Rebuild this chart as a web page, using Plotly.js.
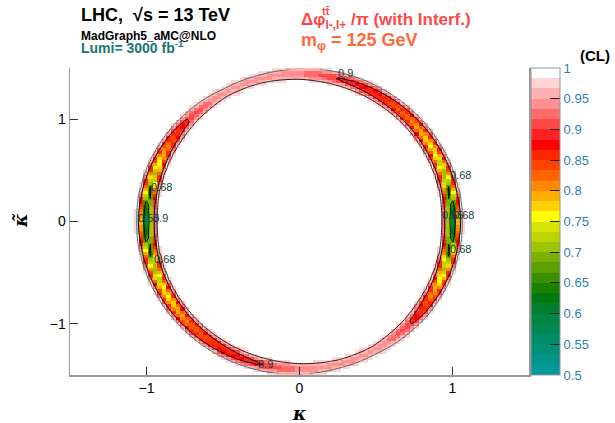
<!DOCTYPE html>
<html>
<head>
<meta charset="utf-8">
<script src="https://cdn.plot.ly/plotly-3.0.1.min.js"></script>
<style>html,body{margin:0;padding:0;background:#fff;}#chart{width:615px;height:423px;}</style>
</head>
<body>
<div id="chart"></div>
<script>
// ---- data ----
// angle around the ring (degrees, in the kappa, kappaTilde/ringScaleY plane)
const ringAngleDeg = [0, 15, 30, 45, 60, 75, 90, 105, 120, 135, 150, 165,
                      180, 195, 210, 225, 240, 255, 270, 285, 300, 315, 330, 345];
// minimum CL along the ring at those angles
const ringMinCL = [0.58, 0.68, 0.75, 0.81, 0.86, 0.895, 0.93, 0.945, 0.945, 0.90, 0.80, 0.68,
                   0.58, 0.68, 0.75, 0.81, 0.86, 0.895, 0.93, 0.945, 0.945, 0.90, 0.80, 0.68];
// ring: kappa^2 + (kappaTilde/ringScaleY)^2 = ringRadius^2
const ringRadius = 1.0;
const ringScaleY = 1.44;
// CL profile across the ring at kappa = 1 (offset from ring centre line)
const profileOffset = [0, 0.010, 0.020, 0.031, 0.041, 0.051, 0.061, 0.072];
const profileCL     = [0.58, 0.61, 0.67, 0.76, 0.84, 0.91, 0.96, 0.99];
// binning of the 2D histogram
const binEdgesMin = -1.5, binEdgesMax = 1.5, nBins = 100;
// colour palette (30 levels from 0.5 to 1)
const paletteColors = ['#009999','#00958a','#009078','#008c66','#008855','#008544','#007f30','#007a10',
  '#1a8200','#3a9000','#5aa000','#7ab000','#9cc400','#bcd400','#d8e400','#ffff00','#ffd200','#ffac00',
  '#ff8800','#ff6400','#ff4400','#ff2600','#ff0000','#ff2222','#ff4848','#ff6c6c','#ff9090','#ffb0b0',
  '#ffd4d4','#ffffff'];
const cbTicks = [0.5,0.55,0.6,0.65,0.7,0.75,0.8,0.85,0.9,0.95,1];
const xTicks = [-1, 0, 1];
const yTicks = [-1, 0, 1];
const contourLevels = [0.68, 0.9];
const edgeLevel = 0.965;

// ---- build histogram ----
function interp(xa, ya, x) {
  if (x <= xa[0]) return ya[0];
  for (let i = 1; i < xa.length; i++) {
    if (x <= xa[i]) { const t = (x - xa[i-1]) / (xa[i] - xa[i-1]); return ya[i-1] + t * (ya[i] - ya[i-1]); }
  }
  return 1;
}
const angA = ringAngleDeg.concat([360]);
const minA = ringMinCL.concat([ringMinCL[0]]);
const bw = (binEdgesMax - binEdgesMin) / nBins;
const xs = [], ys = [];
for (let i = 0; i < nBins; i++) { xs.push(binEdgesMin + (i + 0.5) * bw); ys.push(binEdgesMin + (i + 0.5) * bw); }
const z = [], zOut = [], zIn = [];
for (let j = 0; j < nBins; j++) {
  const row = [], rowO = [], rowI = [];
  for (let i = 0; i < nBins; i++) {
    const u = xs[i], v = ys[j] / ringScaleY;
    const r = Math.sqrt(u*u + v*v);
    let th = Math.atan2(v, u) * 180 / Math.PI; if (th < 0) th += 360;
    const m = interp(angA, minA, th);
    const d = r - ringRadius;
    const p = interp(profileOffset, profileCL, Math.abs(d));
    const val = Math.min(1, 1 - (1 - m) * (1 - p) / (1 - profileCL[0]));
    row.push(val);
    rowO.push(d < 0 ? m : val);
    rowI.push(d > 0 ? m : val);
  }
  z.push(row); zOut.push(rowO); zIn.push(rowI);
}
const cs = [];
const nC = paletteColors.length;
paletteColors.forEach((c, k) => { cs.push([k / nC, c]); cs.push([(k + 1) / nC, c]); });

const heat = {
  type: 'heatmap', x: xs, y: ys, z: z, zmin: 0.5, zmax: 1, colorscale: cs, zsmooth: false,
  hoverinfo: 'skip',
  colorbar: {
    x: 1.0044, xanchor: 'left', xpad: 0, y: 0.5, yanchor: 'middle', ypad: 0, len: 1,
    thickness: 29, outlinecolor: '#999', outlinewidth: 1,
    tickvals: cbTicks, ticktext: cbTicks.map(String), ticks: 'inside', ticklen: 10, tickcolor: '#222',
    tickfont: {family: 'Liberation Sans, Arial', size: 13, color: '#2f7db5'}
  }
};
const cLines = {
  type: 'contour', x: xs, y: ys, z: z, showscale: false, hoverinfo: 'skip',
  contours: {coloring: 'none', start: contourLevels[0], end: contourLevels[1], size: contourLevels[1] - contourLevels[0]},
  line: {color: '#000', width: 1}
};
const edgeOut = {
  type: 'contour', x: xs, y: ys, z: zOut, showscale: false, hoverinfo: 'skip',
  contours: {coloring: 'none', start: edgeLevel, end: edgeLevel, size: 0.1},
  line: {color: '#3d7373', width: 1}
};
const edgeIn = {
  type: 'contour', x: xs, y: ys, z: zIn, showscale: false, hoverinfo: 'skip',
  contours: {coloring: 'none', start: edgeLevel, end: edgeLevel, size: 0.1},
  line: {color: '#222', width: 1}
};

const L = 70, R = 529, T = 68, B = 375;
const px = x => (x - L) / (R - L);
const py = y => (B - y) / (B - T);
const F = 'Liberation Sans, Arial, sans-serif';
const labC = '#173f3f';
function lab(text, x, y) {
  return {text: text, x: x, y: y, xref: 'x', yref: 'y', showarrow: false,
          font: {family: F, size: 11, color: labC}, xanchor: 'center', yanchor: 'middle'};
}
const annotations = [
  {text: '<b>LHC,  √s = 13 TeV</b>', x: px(79), y: py(15), xref: 'paper', yref: 'paper',
   xanchor: 'left', yanchor: 'middle', showarrow: false, font: {family: F, size: 18, color: '#000'}},
  {text: '<b>MadGraph5_aMC@NLO</b>', x: px(79), y: py(36), xref: 'paper', yref: 'paper',
   xanchor: 'left', yanchor: 'middle', showarrow: false, font: {family: F, size: 12, color: '#000'}},
  {text: '<b>Lumi= 3000 fb<sup>-1</sup></b>', x: px(79), y: py(47), xref: 'paper', yref: 'paper',
   xanchor: 'left', yanchor: 'middle', showarrow: false, font: {family: F, size: 14, color: '#1a7575'}},
  {text: '<b>Δφ<sub>l-,l+</sub> /π (with Interf.)</b>', x: px(299), y: py(21), xref: 'paper', yref: 'paper',
   xanchor: 'left', yanchor: 'middle', showarrow: false, font: {family: F, size: 17, color: '#ff4747'}},
  {text: '<b>tt̄</b>', x: px(320), y: py(11), xref: 'paper', yref: 'paper',
   xanchor: 'left', yanchor: 'middle', showarrow: false, font: {family: F, size: 11, color: '#ff4747'}},
  {text: '<b>m<sub>φ</sub> = 125 GeV</b>', x: px(299), y: py(42), xref: 'paper', yref: 'paper',
   xanchor: 'left', yanchor: 'middle', showarrow: false, font: {family: F, size: 18, color: '#ff6a3d'}},
  {text: '<b>(CL)</b>', x: px(578), y: py(56), xref: 'paper', yref: 'paper',
   xanchor: 'left', yanchor: 'middle', showarrow: false, font: {family: F, size: 15, color: '#000'}},
  {text: '<b><i>κ</i></b>', x: px(299), y: py(413), xref: 'paper', yref: 'paper',
   xanchor: 'center', yanchor: 'middle', showarrow: false, font: {family: 'DejaVu Serif, serif', size: 18, color: '#000'}},
  {text: '<b><i>κ̃</i></b>', x: px(20), y: py(221), xref: 'paper', yref: 'paper', textangle: -90,
   xanchor: 'center', yanchor: 'middle', showarrow: false, font: {family: 'DejaVu Serif, serif', size: 18, color: '#000'}},
  lab('0.9', 0.30, 1.45),
  lab('0.9', -0.22, -1.39),
  lab('0.68', 1.05, 0.45),
  lab('0.68', 1.05, -0.27),
  lab('0.68', -0.90, 0.34),
  lab('0.68', -0.88, -0.37),
  lab('0.55', -0.99, 0.03),
  lab('0.9', -0.91, 0.03),
  lab('0.55', 1.0, 0.06),
  lab('0.68', 1.07, 0.06)
];

const layout = {
  width: 615, height: 423,
  margin: {l: L, r: 615 - R, t: T, b: 423 - B, pad: 0},
  paper_bgcolor: '#fff', plot_bgcolor: '#fff',
  showlegend: false,
  xaxis: {range: [-1.5, 1.5], tickvals: xTicks, ticktext: ['−1', '0', '1'], ticks: 'inside', ticklen: 8,
          tickcolor: '#333', showgrid: false, zeroline: false, showline: true, linecolor: '#999', linewidth: 1.5,
          tickfont: {family: F, size: 14, color: '#000'}},
  yaxis: {range: [-1.5, 1.5], tickvals: yTicks, ticktext: ['−1', '0', '1'], ticks: 'inside', ticklen: 8,
          tickcolor: '#333', showgrid: false, zeroline: false, showline: true, linecolor: '#999', linewidth: 1.5,
          mirror: true, tickfont: {family: F, size: 14, color: '#000'}},
  annotations: annotations
};
Plotly.newPlot('chart', [heat, edgeOut, edgeIn, cLines], layout, {displayModeBar: false, staticPlot: true});
</script>
</body>
</html>
